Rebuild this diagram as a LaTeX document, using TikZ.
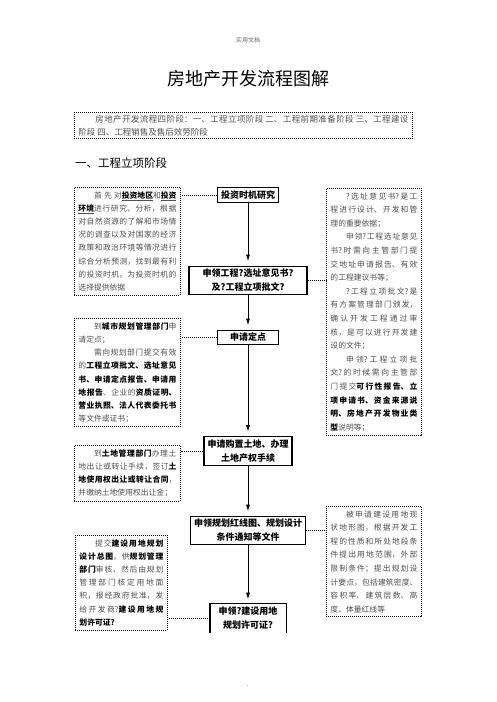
\documentclass[tikz,border=0pt]{standalone}
\usepackage{fontspec}
\setmainfont{Noto Sans CJK SC}
\usetikzlibrary{positioning,arrows.meta}
\definecolor{tgray}{RGB}{80,80,80}
\XeTeXlinebreaklocale "zh"
\XeTeXlinebreakskip=0pt plus 1.5pt
\newcommand{\kw}[1]{{\bfseries\color{black}#1}}
\newcommand{\kwu}[1]{\underline{\kw{#1}}}

\begin{document}
\begin{tikzpicture}[x=1pt,y=-1pt,
    stage/.style={draw, line width=1.2pt, align=center, inner xsep=3.5pt, inner ysep=3pt,
        font=\bfseries\fontsize{9}{14}\selectfont},
    note/.style={draw, dash pattern=on 1pt off 1pt, line width=0.9pt, anchor=north west,
        align=justify, text=tgray, inner xsep=4pt, inner ysep=4pt,
        font=\fontsize{7.8}{13.2}\selectfont},
    link/.style={dash pattern=on 1pt off 1pt, line width=0.9pt},
    flow/.style={-{Latex[length=7pt,width=4pt]}, line width=1pt, shorten >=4pt}]

    \fill[white] (0,0) rectangle (496,702);
    \useasboundingbox (0,0) rectangle (496,702);

    \node[text=black!60, font=\fontsize{6}{6}\selectfont] (hdr) at (248,40) {.实用文档.};
    \node[font=\fontsize{18}{18}\selectfont] (title) at (248,79) {房地产开发流程图解};
    \node[note, text width=330pt, inner ysep=3pt, font=\fontsize{8.5}{12.5}\selectfont] (intro) at (74,112)
        {\hspace*{2em}房地产开发流程四阶段：一、工程立项阶段 二、工程前期准备阶段 三、工程建设\linebreak
        阶段 四、工程销售及售后效劳阶段};
    \node[anchor=west, inner sep=0pt, font=\fontsize{11.5}{12}\selectfont] (sec) at (75,163) {一、工程立项阶段};

    \node[stage] (study) at (248,195) {投资时机研究};
    \node[stage, minimum width=118pt] (site) at (248,280.5) {申领工程?选址意见书?\\及?工程立项批文?};
    \node[stage, minimum width=61pt] (locate) at (248,337.5) {申请定点};
    \node[stage] (land) at (248,451) {申请购置土地、办理\\土地产权手续};
    \node[stage] (redline) at (248,530.5) {申领规划红线图、规划设计\\条件通知等文件};
    \node[stage, minimum width=75pt, draw=none] (permit) at (248,618.5) {申领?建设用地\\规划许可证?};
    \draw[line width=1.2pt] (permit.south west) -- (permit.north west) -- (permit.north east) -- (permit.south east);

    \node[note, text width=98pt] (scan) at (74,187)
        {\hspace*{2em}首先对\kwu{投资地区}和\kwu{投资}\linebreak
        \kwu{环境}进行研究、分析，根据\linebreak
        对自然资源的了解和市场情\linebreak
        况的调查以及对国家的经济\linebreak
        政策和政治环境等情况进行\linebreak
        综合分析预测，找到最有利\linebreak
        的投资时机，为投资时机的\linebreak
        选择提供依据};
    \node[note, text width=98pt] (urban) at (74,318)
        {\hspace*{2em}到\kw{城市规划管理部门}申\linebreak
        请定点；\\
        \hspace*{2em}需向规划部门提交有效\linebreak
        的\kw{工程立项批文、选址意见}\linebreak
        \kw{书、申请定点报告、申请用}\linebreak
        \kw{地报告}、企业的\kw{资质证明、}\linebreak
        \kw{营业执照、法人代表委托书}\linebreak
        等文件或证书；};
    \node[note, text width=98pt] (bureau) at (74,445)
        {\hspace*{2em}到\kw{土地管理部门}办理土\linebreak
        地出让或转让手续，签订\kw{土}\linebreak
        \kw{地使用权出让或转让合同}，\linebreak
        并缴纳土地使用权出让金；};
    \node[note, text width=84pt] (plan) at (75,535)
        {\hspace*{2em}提交\kw{建设用地规划}\linebreak
        \kw{设计总图}，供\kw{规划管理}\linebreak
        \kw{部门}审核，然后由规划\linebreak
        管理部门核定用地面\linebreak
        积，报经政府批准，发\linebreak
        给开发商?\kw{建设用地规}\linebreak
        \kw{划许可证?}};
    \node[note, text width=87pt, font=\fontsize{7.8}{13.6}\selectfont] (siteinfo) at (326,188)
        {\hspace*{2em}?选址意见书?是工\linebreak
        程进行设计、开发和管\linebreak
        理的重要依据；\\
        \hspace*{2em}申领?工程选址意见\linebreak
        书?时需向主管部门提\linebreak
        交地址申请报告、有效\linebreak
        的工程建议书等；\\
        \hspace*{2em}?工程立项批文?是\linebreak
        有方案管理部门颁发，\linebreak
        确认开发工程通过审\linebreak
        核，是可以进行开发建\linebreak
        设的文件；\\
        \hspace*{2em}申领?工程立项批\linebreak
        文?的时候需向主管部\linebreak
        门提交\kw{可行性报告、立}\linebreak
        \kw{项申请书、资金来源说}\linebreak
        \kw{明、房地产开发物业类}\linebreak
        \kw{型}说明等；};
    \node[note, text width=87pt, font=\fontsize{7.8}{13.6}\selectfont] (survey) at (326,506)
        {\hspace*{2em}被申请建设用地现\linebreak
        状地形图，根据开发工\linebreak
        程的性质和所处地段条\linebreak
        件提出用地范围，外部\linebreak
        限制条件；提出规划设\linebreak
        计要点，包括建筑密度、\linebreak
        容积率、建筑层数、高\linebreak
        度、体量红线等};

    \node[font=\fontsize{6}{6}\selectfont] (foot) at (248,686) {.};

    \draw[flow] (study) -- (site);
    \draw[flow] (site) -- (locate);
    \draw[flow] (locate) -- (land);
    \draw[flow] (land) -- (redline);
    \draw[flow] (redline) -- (permit.north);

    \draw[link] (study.west) -- (study.west -| scan.east);
    \draw[link] (site.east) -- (site.east -| siteinfo.west);
    \draw[link] (locate.west) -- (locate.west -| urban.east);
    \draw[link] (land.west) -- (land.west -| bureau.east);
    \draw[link] (redline.east) -- (redline.east -| survey.west);
    \draw[link] (permit.west) -- (permit.west -| plan.east);

\end{tikzpicture}
\end{document}
